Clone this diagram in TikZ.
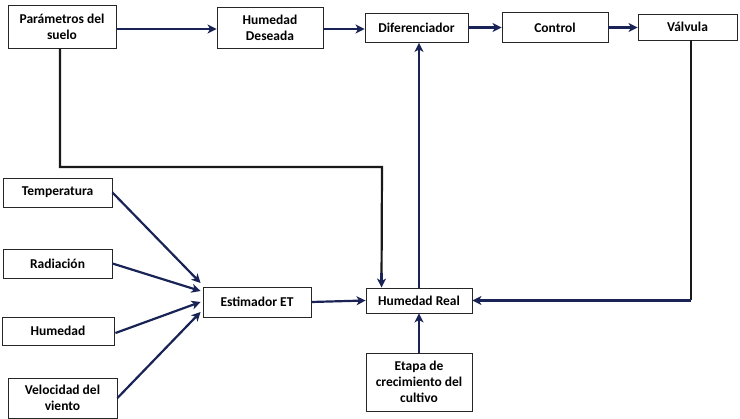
\documentclass[tikz,border=0pt]{standalone}
\usepackage{fontspec}
\setmainfont{Carlito}
\usetikzlibrary{arrows.meta,calc}
\definecolor{navy}{RGB}{25,35,85}
\begin{document}
\begin{tikzpicture}[x=1pt,y=-1pt,
  blk/.style={draw=black!85,line width=0.9pt,fill=white,inner sep=1pt,align=center,
    font=\fontsize{13.5}{16}\selectfont\bfseries},
  arr/.style={navy,line width=2.2pt,-{Stealth[length=9pt,width=9pt,inset=2.5pt]}},
  ln/.style={black!90,line width=2.2pt}]
\useasboundingbox (0,0) rectangle (740,419);
\node[blk,minimum width=108pt,minimum height=43pt] (param) at (62,27) {Parámetros del\\suelo};
\node[blk,minimum width=106pt,minimum height=41pt] (des) at (270,28) {Humedad\\Deseada};
\node[blk,minimum width=103pt,minimum height=29pt] (dif) at (416.5,28) {Diferenciador};
\node[blk,minimum width=106pt,minimum height=30pt] (ctl) at (555,27.5) {Control};
\node[blk,minimum width=99pt,minimum height=26pt] (val) at (687.5,27) {Válvula};
\node[blk,minimum width=109pt,minimum height=29pt] (temp) at (57.5,192.5) {Temperatura};
\node[blk,minimum width=109pt,minimum height=29pt] (rad) at (57.5,263.5) {Radiación};
\node[blk,minimum width=112pt,minimum height=28pt] (hum) at (58,331) {Humedad};
\node[blk,minimum width=109pt,minimum height=40pt] (vel) at (62.5,398) {Velocidad del\\viento};
\node[blk,minimum width=108pt,minimum height=30pt] (est) at (257,302) {Estimador ET};
\node[blk,minimum width=106pt,minimum height=25pt] (real) at (419,300.5) {Humedad Real};
\node[blk,minimum width=106pt,minimum height=58pt] (etapa) at (419,382) {Etapa de\\crecimiento del\\cultivo};
\coordinate (c1) at (60,167);
\coordinate (c2) at (691,300.5);
% top row
\draw[arr] (param.east |- 0,29) -- (des.west |- 0,29);
\draw[arr] (des.east |- 0,29) -- (dif.west |- 0,29);
\draw[arr] (dif.east |- 0,27.5) -- (ctl.west |- 0,27.5);
\draw[arr] (ctl.east |- 0,27.5) -- (val.west |- 0,27.5);
% soil parameter feed
\draw[ln] (param.south -| c1) -- (c1) -- (c1 -| 382,0) -- ($(real.north west)+(16,-14)$);
\draw[arr] ($(real.north west)+(16,-15)$) -- ($(real.north west)+(16,0)$);
% feedback up
\draw[arr] (real.north) -- (dif.south -| real.north);
% valve feedback
\draw[ln] (val.south -| c2) -- (c2);
\draw[arr] (c2) -- (real.east);
% estimator
\draw[arr] (est.east) -- (real.west);
\draw[arr] (etapa.north) -- (real.south);
% inputs
\draw[arr] (temp.east) -- ($(est.west)+(-2,-19)$);
\draw[arr] (rad.east) -- ($(est.west)+(-2,-11)$);
\draw[arr] ($(hum.east)+(1,2)$) -- ($(est.west)+(-2,0)$);
\draw[arr] (vel.east) -- ($(est.west)+(-2,10)$);
\end{tikzpicture}
\end{document}
